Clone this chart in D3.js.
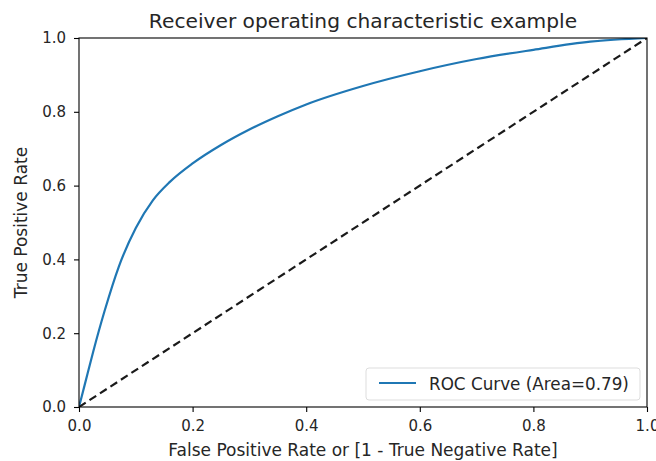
<!DOCTYPE html>
<html>
<head>
<meta charset="utf-8">
<script src="https://cdn.jsdelivr.net/npm/d3@7"></script>
<style>
  body { margin: 0; background: #fff; }
  svg { display: block; font-family: "DejaVu Sans", sans-serif; }
</style>
</head>
<body>
<svg id="chart" width="656" height="461"></svg>
<script>
// ROC curve
const fpr = [0, 0.01, 0.025, 0.045, 0.07, 0.1, 0.13, 0.16, 0.2, 0.25, 0.3, 0.35, 0.4, 0.5, 0.6, 0.7, 0.8, 0.9, 1.0];
const tpr = [0, 0.06, 0.15, 0.26, 0.38, 0.485, 0.56, 0.61, 0.66, 0.71, 0.752, 0.788, 0.82, 0.87, 0.91, 0.943, 0.968, 0.99, 1.0];
const diag = [0, 1];
const ticks = [0, 0.2, 0.4, 0.6, 0.8, 1.0];
const legendLabel = 'ROC Curve (Area=0.79)';

const svg = d3.select('#chart');
const m = { t: 38, r: 9, b: 54, l: 79 };
const W = 656, H = 461;
const innerW = W - m.l - m.r, innerH = H - m.t - m.b;

const x = d3.scaleLinear().domain([0, 1]).range([0, innerW]);
const y = d3.scaleLinear().domain([0, 1]).range([innerH, 0]);

const g = svg.append('g').attr('transform', `translate(${m.l},${m.t})`);

// clip so the lines sit inside the frame
g.append('clipPath').attr('id', 'clip')
  .append('rect').attr('width', innerW).attr('height', innerH);

const plot = g.append('g').attr('clip-path', 'url(#clip)');

const pts = fpr.map((f, i) => [f, tpr[i]]);
plot.append('path').datum(pts)
  .attr('fill', 'none').attr('stroke', '#1f77b4').attr('stroke-width', 2.2)
  .attr('d', d3.line().x(d => x(d[0])).y(d => y(d[1])).curve(d3.curveMonotoneX));

plot.append('path').datum(diag.map(v => [v, v]))
  .attr('fill', 'none').attr('stroke', '#1a1a1a').attr('stroke-width', 2.2)
  .attr('stroke-dasharray', '8,4.5')
  .attr('d', d3.line().x(d => x(d[0])).y(d => y(d[1])));

// axes
const fmt = d3.format('.1f');
const xAxis = g.append('g').attr('transform', `translate(0,${innerH})`)
  .call(d3.axisBottom(x).tickValues(ticks).tickFormat(fmt).tickSize(5).tickPadding(8));
const yAxis = g.append('g')
  .call(d3.axisLeft(y).tickValues(ticks).tickFormat(fmt).tickSize(5).tickPadding(8));
[xAxis, yAxis].forEach(a => {
  a.select('.domain').remove();
  a.selectAll('line').attr('stroke', '#000').attr('stroke-width', 1.1);
  a.selectAll('text').attr('font-size', 15).attr('fill', '#262626')
    .attr('font-family', '"DejaVu Sans", sans-serif');
});

// frame
g.append('rect').attr('width', innerW).attr('height', innerH)
  .attr('fill', 'none').attr('stroke', '#000').attr('stroke-width', 1.1);

// labels
svg.append('text').attr('x', m.l + innerW / 2).attr('y', 28)
  .attr('text-anchor', 'middle').attr('font-size', 20.2).attr('fill', '#262626')
  .text('Receiver operating characteristic example');
svg.append('text').attr('x', m.l + innerW / 2).attr('y', 456)
  .attr('text-anchor', 'middle').attr('font-size', 17).attr('fill', '#262626')
  .text('False Positive Rate or [1 - True Negative Rate]');
svg.append('text').attr('transform', `translate(27,${m.t + innerH / 2}) rotate(-90)`)
  .attr('text-anchor', 'middle').attr('font-size', 17).attr('fill', '#262626')
  .text('True Positive Rate');

// legend
const lg = g.append('g').attr('transform', `translate(${innerW - 281},${innerH - 39})`);
lg.append('rect').attr('width', 274).attr('height', 32).attr('rx', 3)
  .attr('fill', '#fff').attr('fill-opacity', 0.8).attr('stroke', '#ddd');
lg.append('line').attr('x1', 13).attr('x2', 50).attr('y1', 15).attr('y2', 15)
  .attr('stroke', '#1f77b4').attr('stroke-width', 2.2);
lg.append('text').attr('x', 63).attr('y', 22).attr('font-size', 16.8).attr('fill', '#262626')
  .text(legendLabel);
</script>
</body>
</html>
